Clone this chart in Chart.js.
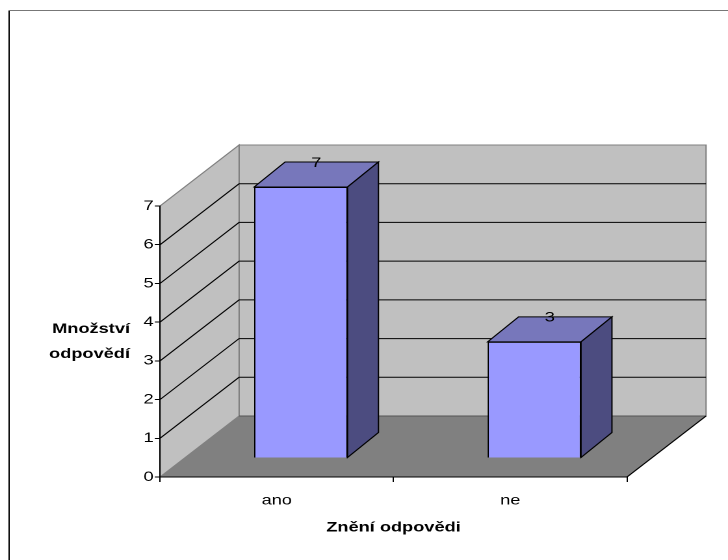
<!DOCTYPE html>
<html>
<head>
<meta charset="utf-8">
<script src="https://cdn.jsdelivr.net/npm/chart.js@4/dist/chart.umd.min.js"></script>
<style>
  html, body { margin: 0; padding: 0; background: #fff; overflow: hidden; }
  /* the chart is laid out narrow and widened horizontally */
  #chart { display: block; transform: scaleX(1.3); transform-origin: 0 0; }
</style>
</head>
<body>
<canvas id="chart" width="560" height="560"></canvas>
<script>
// ---- data ----
const categories = ['ano', 'ne'];
const answerCounts = [7, 3];
const yMin = 0;
const yMax = 7;
const yStep = 1;
const xTitle = 'Znění odpovědi';
const yTitleLines = ['Množství', 'odpovědí'];

// ---- look ----
const FONT = "'Liberation Sans', Arial, Helvetica, sans-serif";
const wallDepth = { dx: 60.8, dy: -61 };   // floor / wall depth
const barFront = { dx: 18.5, dy: -19 };    // bars stand inside the box
const barDepth = { dx: 23.8, dy: -25 };    // bar thickness
const colors = {
  wall: '#C0C0C0', wallEdge: '#808080', floor: '#808080',
  grid: '#000000', barFront: '#9999FF', barTop: '#7777BB', barSide: '#4C4C80'
};

function poly(ctx, pts, fill, stroke) {
  ctx.beginPath();
  ctx.moveTo(pts[0][0], pts[0][1]);
  for (let i = 1; i < pts.length; i++) ctx.lineTo(pts[i][0], pts[i][1]);
  ctx.closePath();
  if (fill) { ctx.fillStyle = fill; ctx.fill(); }
  if (stroke) { ctx.strokeStyle = stroke; ctx.stroke(); }
}

// walls, floor and receding gridlines behind the bars
const boxPlugin = {
  id: 'box3d',
  beforeDraw(chart) {
    const { ctx, chartArea: a, scales: { y } } = chart;
    const L = a.left, R = a.right;
    const B = y.getPixelForValue(yMin), T = y.getPixelForValue(yMax);
    const dx = wallDepth.dx, dy = wallDepth.dy;
    ctx.save();
    ctx.lineWidth = 1;
    // frame
    ctx.strokeStyle = '#000';
    ctx.beginPath(); ctx.moveTo(7, 560); ctx.lineTo(7, 10.5); ctx.stroke();
    ctx.strokeStyle = '#777';
    ctx.beginPath(); ctx.moveTo(7, 10.5); ctx.lineTo(560, 10.5); ctx.stroke();
    // back wall
    poly(ctx, [[L + dx, T + dy], [R + dx, T + dy], [R + dx, B + dy], [L + dx, B + dy]], colors.wall, colors.wallEdge);
    // side wall
    poly(ctx, [[L, B], [L, T], [L + dx, T + dy], [L + dx, B + dy]], colors.wall, colors.wallEdge);
    // floor
    poly(ctx, [[L, B], [R, B], [R + dx, B + dy], [L + dx, B + dy]], colors.floor, null);
    ctx.strokeStyle = '#555';
    ctx.beginPath(); ctx.moveTo(L + dx, B + dy); ctx.lineTo(R + dx, B + dy); ctx.stroke();
    ctx.strokeStyle = '#000';
    ctx.beginPath(); ctx.moveTo(R, B); ctx.lineTo(R + dx, B + dy); ctx.stroke();
    // gridlines
    ctx.strokeStyle = colors.grid;
    for (let v = yMin + yStep; v < yMax; v += yStep) {
      const py = y.getPixelForValue(v);
      ctx.beginPath();
      ctx.moveTo(L, py);
      ctx.lineTo(L + dx, py + dy);
      ctx.lineTo(R + dx, py + dy);
      ctx.stroke();
    }
    ctx.restore();
  },
  beforeDatasetsDraw(chart) {
    chart.ctx.save();
    chart.ctx.translate(barFront.dx, barFront.dy);
  },
  afterDatasetsDraw(chart) {
    const ctx = chart.ctx;
    ctx.restore();
    const meta = chart.getDatasetMeta(0);
    const values = chart.data.datasets[0].data;
    ctx.save();
    ctx.lineWidth = 1;
    meta.data.forEach((el, i) => {
      const p = el.getProps(['x', 'y', 'base', 'width'], true);
      const l = p.x - p.width / 2 + barFront.dx, r = p.x + p.width / 2 + barFront.dx;
      const t = p.y + barFront.dy, b = p.base + barFront.dy;
      const ddx = barDepth.dx, ddy = barDepth.dy;
      poly(ctx, [[l, t], [r, t], [r + ddx, t + ddy], [l + ddx, t + ddy]], colors.barTop, '#000');
      poly(ctx, [[r, t], [r + ddx, t + ddy], [r + ddx, b + ddy], [r, b]], colors.barSide, '#000');
      // value label on the top face
      ctx.fillStyle = '#000';
      ctx.font = '14px ' + FONT;
      ctx.textAlign = 'center';
      ctx.textBaseline = 'middle';
      ctx.fillText(String(values[i]), (l + r) / 2 + ddx / 2, t + ddy + 1);
    });
    ctx.restore();
  },
  afterDraw(chart) {
    const ctx = chart.ctx;
    ctx.save();
    ctx.fillStyle = '#000';
    ctx.font = 'bold 14px ' + FONT;
    ctx.textAlign = 'right';
    ctx.textBaseline = 'alphabetic';
    yTitleLines.forEach((line, i) => ctx.fillText(line, 100, 333 + i * 25));
    ctx.restore();
  }
};

new Chart(document.getElementById('chart'), {
  type: 'bar',
  data: {
    labels: categories,
    datasets: [{
      data: answerCounts,
      backgroundColor: colors.barFront,
      borderColor: '#000',
      borderWidth: 1,
      barPercentage: 0.4,
      categoryPercentage: 1.0,
      clip: false
    }]
  },
  options: {
    responsive: false,
    devicePixelRatio: 2,
    animation: false,
    events: [],
    layout: { padding: { left: 0, top: 206, right: 77.7, bottom: 0 } },
    plugins: { legend: { display: false }, tooltip: { enabled: false } },
    scales: {
      x: {
        grid: { offset: true, drawOnChartArea: false, drawTicks: true, tickLength: 5, color: '#000' },
        border: { display: true, color: '#000', width: 1 },
        ticks: { color: '#000', font: { family: FONT, size: 14 }, padding: 10, maxRotation: 0 },
        title: { display: true, text: xTitle, color: '#000', font: { family: FONT, size: 14, weight: 'bold' }, padding: { top: 0, bottom: 24 } },
        afterFit(scale) { scale.height = 83; }
      },
      y: {
        min: yMin, max: yMax,
        grid: { drawOnChartArea: false, drawTicks: true, tickLength: 4, color: '#000' },
        border: { display: true, color: '#000', width: 1 },
        ticks: { stepSize: yStep, color: '#000', font: { family: FONT, size: 14 }, padding: 1 },
        afterFit(scale) { scale.width = 123.1; }
      }
    }
  },
  plugins: [boxPlugin]
});
</script>
</body>
</html>
